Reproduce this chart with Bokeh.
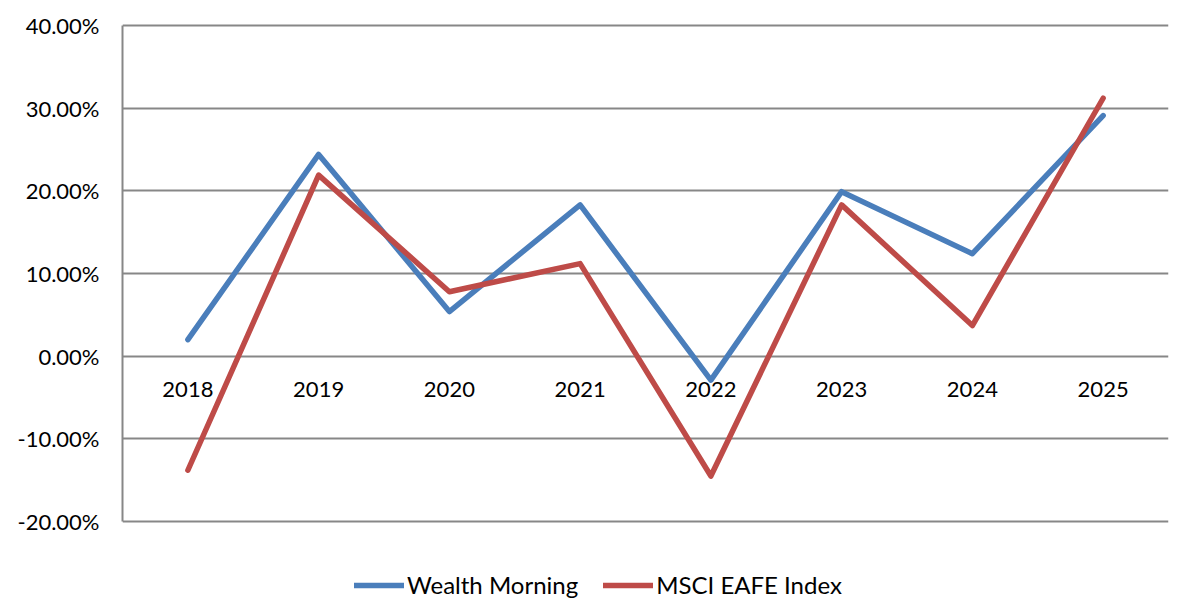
from bokeh.plotting import figure
from bokeh.models import (Legend, LegendItem, FixedTicker,
                          PrintfTickFormatter, Range1d, FactorRange, ColumnDataSource)
from bokeh.core.properties import value
from bokeh.embed import file_html
from bokeh.resources import INLINE

years = ["2018", "2019", "2020", "2021", "2022", "2023", "2024", "2025"]
wealth_morning = [2.0, 24.4, 5.4, 18.3, -2.9, 19.9, 12.4, 29.1]
msci_eafe = [-13.8, 21.9, 7.8, 11.2, -14.5, 18.3, 3.7, 31.2]
y_ticks = [-20, -10, 0, 10, 20, 30, 40]
y_min, y_max = -20, 40
x_axis_crossing = 0

FONT = "Lato"
GRID = "#878787"
BLUE = "#4A7EBB"
RED = "#BE4B48"

W, H = 1178, 600
FRAME_TOP, FRAME_BOTTOM = 25, 521          # pixel rows of the 40% and -20% lines
ppu = (FRAME_BOTTOM - FRAME_TOP) / (y_max - y_min)
range_top = y_max + FRAME_TOP / ppu
range_bottom = y_min - (H - FRAME_BOTTOM) / ppu

p = figure(width=W, height=H, x_range=FactorRange(factors=years, range_padding=0),
           y_range=Range1d(range_bottom, range_top), output_backend="svg", toolbar_location=None,
           x_axis_location=None, min_border_left=122, min_border_right=10,
           min_border_top=0, min_border_bottom=0)
p.outline_line_color = None
p.background_fill_color = "white"
p.border_fill_color = "white"

ya = p.yaxis[0]
ya.ticker = FixedTicker(ticks=y_ticks)
ya.bounds = (y_min, y_max)
ya.formatter = PrintfTickFormatter(format="%.2f%%")
ya.axis_line_color = GRID
ya.axis_line_width = 2
ya.major_tick_line_color = None
ya.minor_tick_line_color = None
ya.major_tick_out = 0
ya.major_tick_in = 0
ya.major_label_text_font = FONT
ya.major_label_text_font_size = "22px"
ya.major_label_text_color = "black"
ya.major_label_standoff = 23

p.xgrid.grid_line_color = None
p.ygrid.grid_line_color = GRID
p.ygrid.grid_line_width = 2
p.ygrid.ticker = FixedTicker(ticks=y_ticks)

# category labels on the axis crossing at 0
lab_src = ColumnDataSource(dict(x=years, y=[x_axis_crossing] * len(years), t=years))
p.text(x="x", y="y", text="t", source=lab_src, text_align="center", text_baseline="middle",
       y_offset=33, text_font=value(FONT), text_font_size="22px", text_color="black")

r1 = p.line(years, wealth_morning, line_color=BLUE, line_width=5.5, line_cap="round", line_join="round")
r2 = p.line(years, msci_eafe, line_color=RED, line_width=5.5, line_cap="round", line_join="round")

legend = Legend(items=[LegendItem(label="Wealth Morning", renderers=[r1]),
                       LegendItem(label="MSCI EAFE Index", renderers=[r2])],
                orientation="horizontal", location=(232, 1),
                label_text_font=FONT, label_text_font_size="24px", label_text_color="black",
                glyph_width=50, glyph_height=20, label_standoff=3, spacing=25,
                border_line_color=None, background_fill_alpha=0, padding=4, margin=0)
p.add_layout(legend, "center")

open("out.html", "w").write(file_html(p, INLINE))
